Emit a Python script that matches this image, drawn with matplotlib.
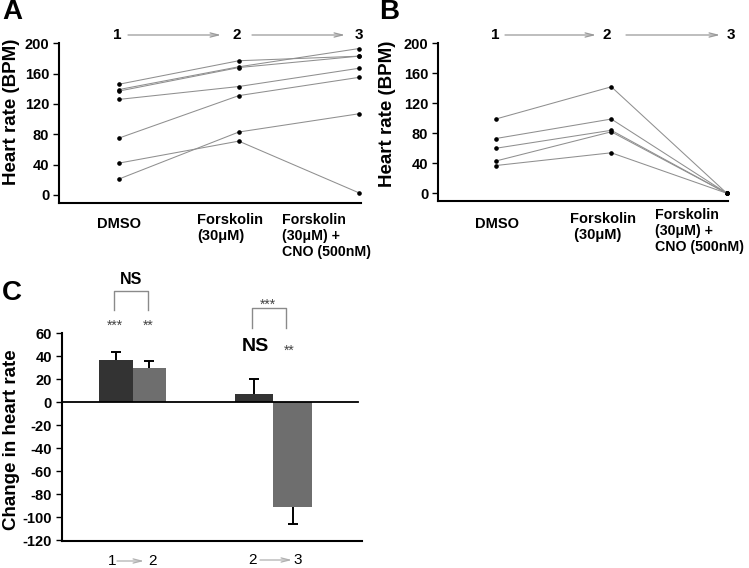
import matplotlib
matplotlib.use('Agg')
import matplotlib.pyplot as plt

# heart rate (BPM) per animal: DMSO, forskolin, forskolin + CNO
conditions = ["DMSO", "Forskolin\n(30\u03bcM)", "Forskolin\n(30\u03bcM) +\nCNO (500nM)"]
hr_a = [[146, 177, 183],
        [139, 169, 193],
        [137, 168, 183],
        [126, 143, 167],
        [75, 131, 155],
        [42, 71, 3],
        [21, 83, 107]]
hr_b = [[99, 142, 0],
        [73, 99, 0],
        [60, 84, 0],
        [43, 82, 0],
        [37, 54, 0]]

# change in heart rate, mean and one-sided error
steps = ["1", "2", "3"]
dark_mean = [37, 7.6]
dark_err = [6.6, 13.0]
gray_mean = [30, -91]
gray_err = [5.7, 14.6]

W, H = 749, 568
def fx(x): return x / W
def fy(y): return 1 - y / H

plt.rcParams['font.family'] = ['Liberation Sans', 'DejaVu Sans']
plt.rcParams['font.weight'] = 'bold'
plt.rcParams['axes.unicode_minus'] = False

fig = plt.figure(figsize=(W / 100, H / 100), dpi=100)


def style_axes(ax):
    for s in ['top', 'right']:
        ax.spines[s].set_visible(False)
    for s in ['left', 'bottom']:
        ax.spines[s].set_linewidth(1.5)
    ax.tick_params(axis='y', direction='out', length=4, width=1, labelsize=10.5, pad=3)
    ax.set_xticks([])


def arrow(ax, x0, x1, y, color='#9a9a9a'):
    ax.annotate('', xy=(fx(x1), fy(y)), xytext=(fx(x0), fy(y)),
                xycoords='figure fraction', annotation_clip=False,
                arrowprops=dict(arrowstyle='->,head_length=0.6,head_width=0.15',
                                color=color, lw=0.9, shrinkA=0, shrinkB=0))


def rate_panel(rect, data, xlim, ylim):
    ax = fig.add_axes(rect)
    for row in data:
        ax.plot(range(3), row, color='#8f8f8f', lw=0.75, marker='o', ms=2.3,
                mfc='black', mec='black', clip_on=False)
    ax.set_xlim(*xlim)
    ax.set_ylim(*ylim)
    ax.set_yticks([0, 40, 80, 120, 160, 200])
    style_axes(ax)
    return ax


# ---- panel A
axA = rate_panel([fx(59), fy(203), 302 / W, (203 - 43.3) / H], hr_a, (-0.5, 2.02), (-10.6, 200))
fig.text(fx(12), fy(112), "Heart rate (BPM)", rotation=90, fontsize=13.5, ha='center', va='center')
fig.text(fx(12), fy(12), "A", fontsize=20, ha='center', va='center')
for x, t in zip([117, 237, 358.5], steps):
    fig.text(fx(x), fy(35), t, fontsize=11, ha='center', va='center')
arrow(axA, 128, 221, 35)
arrow(axA, 252, 345, 35)
fig.text(fx(118.5), fy(224), conditions[0], fontsize=10.5, ha='center', va='center')
fig.text(fx(197), fy(213), conditions[1], fontsize=10.5, ha='left', va='top', linespacing=1.2)
fig.text(fx(282), fy(213), conditions[2], fontsize=10.2, ha='left', va='top', linespacing=1.2)

# ---- panel B
axB = rate_panel([fx(438), fy(201), 290 / W, (201 - 43.3) / H], hr_b, (-0.5, 2.01), (-10.3, 200))
fig.text(fx(387.5), fy(114), "Heart rate (BPM)", rotation=90, fontsize=13.5, ha='center', va='center')
fig.text(fx(389), fy(12), "B", fontsize=20, ha='center', va='center')
for x, t in zip([495, 607, 731], steps):
    fig.text(fx(x), fy(35), t, fontsize=11, ha='center', va='center')
arrow(axB, 505, 596, 35)
arrow(axB, 626, 720, 35)
fig.text(fx(497), fy(224), conditions[0], fontsize=10.5, ha='center', va='center')
fig.text(fx(570), fy(212), conditions[1].replace("\n", "\n "), fontsize=10.5, ha='left', va='top', linespacing=1.2)
fig.text(fx(655), fy(208), conditions[2], fontsize=10.2, ha='left', va='top', linespacing=1.2)

# ---- panel C
axC = fig.add_axes([fx(61.7), fy(541), (362 - 61.7) / W, (541 - 333.3) / H])
pos = [0, 1]
widths = [0.238, 0.275]


def one_sided_err(ax, x, m, e):
    end = m + e if m > 0 else m - e
    ax.vlines(x, m, end, color='black', lw=1.4, zorder=3)
    ax.plot([x], [end], marker='_', ms=7, mew=1.4, color='black', zorder=3)


for i in range(2):
    w = widths[i]
    axC.bar(pos[i] - w / 2, dark_mean[i], w, color='#333333', zorder=2)
    axC.bar(pos[i] + w / 2, gray_mean[i], w, color='#6e6e6e', zorder=2)
    one_sided_err(axC, pos[i] - w / 2, dark_mean[i], dark_err[i])
    one_sided_err(axC, pos[i] + w / 2, gray_mean[i], gray_err[i])
axC.set_xlim(-0.505, 1.631)
axC.set_ylim(-120.5, 60)
axC.set_yticks(range(-120, 61, 20))
axC.axhline(0, xmax=0.987, color='black', lw=1.3, zorder=4)
style_axes(axC)
fig.text(fx(12), fy(440), "Change in heart rate", rotation=90, fontsize=13.5, ha='center', va='center')
fig.text(fx(12), fy(293), "C", fontsize=20, ha='center', va='center')

# x labels of panel C
fig.text(fx(111.7), fy(561), steps[0], fontsize=11, fontweight='normal', ha='center', va='center')
fig.text(fx(152.7), fy(561), steps[1], fontsize=11, fontweight='normal', ha='center', va='center')
arrow(axC, 117, 144, 561, color='#b0b0b0')
fig.text(fx(252.7), fy(560), steps[1], fontsize=11, fontweight='normal', ha='center', va='center')
fig.text(fx(297.3), fy(560), steps[2], fontsize=11, fontweight='normal', ha='center', va='center')
arrow(axC, 260, 292, 560, color='#b0b0b0')

# significance marks
def bracket(x0, x1, ytop, ybot):
    fig.add_artist(plt.Line2D([fx(x0), fx(x0), fx(x1), fx(x1)],
                              [fy(ybot), fy(ytop), fy(ytop), fy(ybot)],
                              color='#8a8a8a', lw=1.0))

def stars(x, y, s):
    fig.text(fx(x), fy(y + 8), s, fontsize=10, fontweight='normal', color='#444444',
             ha='center', va='baseline')

bracket(114.3, 148.3, 290.7, 310)
fig.text(fx(131), fy(280), "NS", fontsize=11.5, ha='center', va='center')
stars(115, 321.7, "***")
stars(148, 321.7, "**")

bracket(251.7, 285.7, 308.3, 328)
stars(268.3, 300.7, "***")
fig.text(fx(255), fy(346.7), "NS", fontsize=14, ha='center', va='center')
stars(289.3, 346.7, "**")

fig.savefig("out.png", dpi=100)
